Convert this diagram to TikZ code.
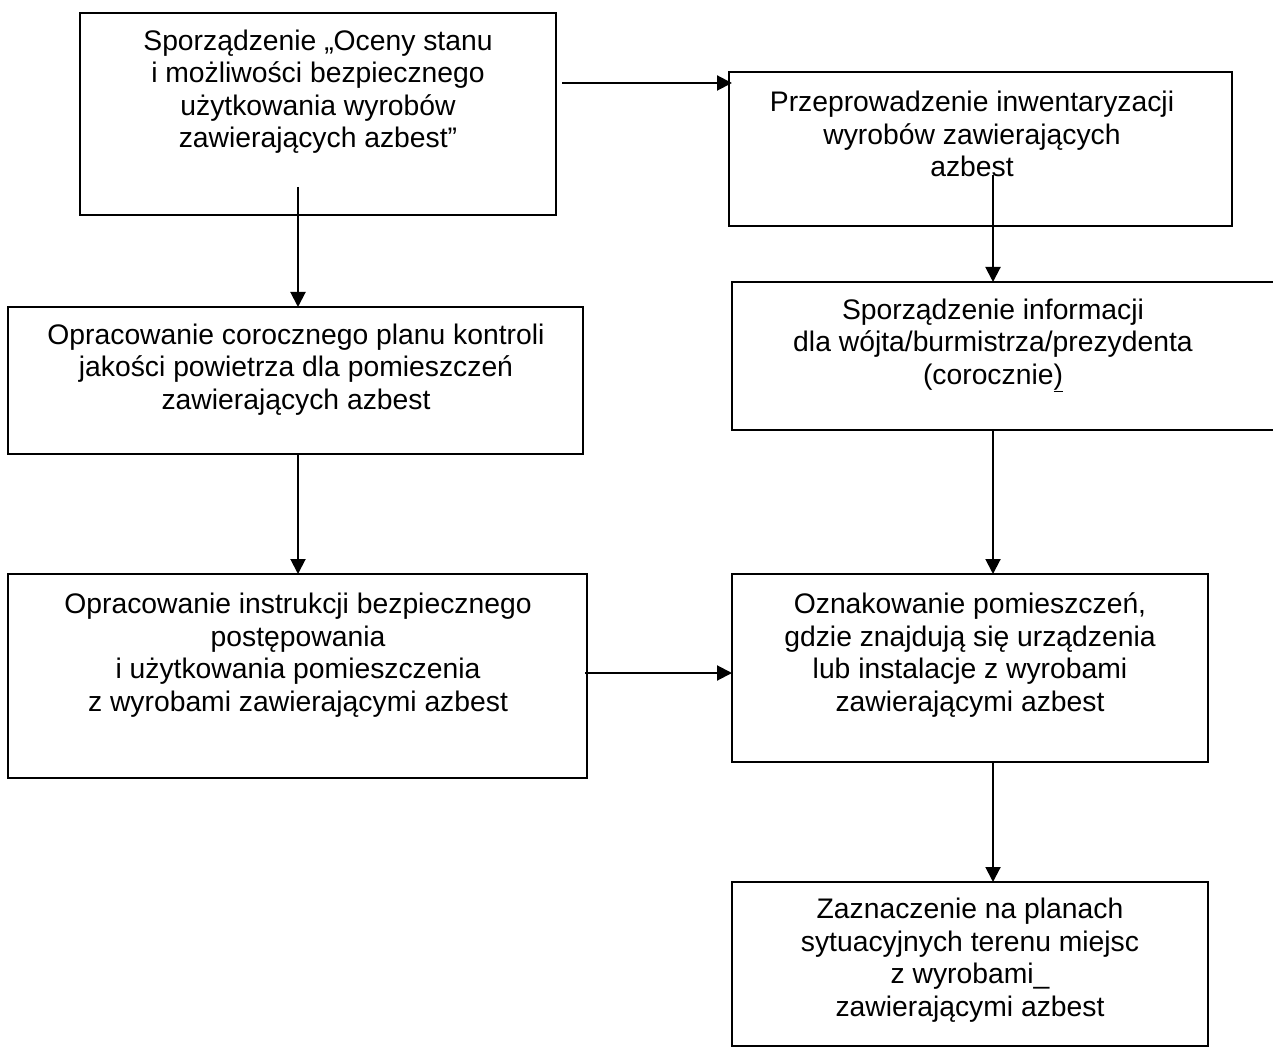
\documentclass[tikz,border=0pt]{standalone}
\usepackage{fontspec}
\setmainfont{Liberation Sans}
\usetikzlibrary{arrows.meta}
\begin{document}
\begin{tikzpicture}[x=1pt,y=-1pt,
  box/.style={draw, line width=2.2pt, inner sep=0pt, outer sep=0pt},
  txt/.style={align=center, anchor=base, inner sep=0pt, font=\fontsize{28.3}{32.5}\selectfont},
  arr/.style={line width=2pt, -{Triangle[length=15pt,width=15pt]}}]
\useasboundingbox (0,0) rectangle (1273,1048);
% boxes
\node[box, minimum width=476pt, minimum height=202pt] (A) at (318,114) {};
\node[box, minimum width=503pt, minimum height=154pt] (B) at (980.5,149) {};
\node[box, minimum width=575pt, minimum height=147pt] (C) at (295.5,380.5) {};
\node[box, minimum width=548pt, minimum height=148pt] (D) at (1006,356) {};
\node[box, minimum width=579pt, minimum height=204pt] (E) at (297.5,676) {};
\node[box, minimum width=476pt, minimum height=188pt] (F) at (970,668) {};
\node[box, minimum width=476pt, minimum height=164pt] (G) at (970,964) {};
% texts (anchor = baseline of the last line)
\node[txt] (At) at (318,148) {Sporządzenie „Oceny stanu\\ i możliwości bezpiecznego\\użytkowania wyrobów\\zawierających azbest”};
\node[txt] (Bt) at (972,177) {Przeprowadzenie inwentaryzacji\\wyrobów zawierających\\azbest};
\node[txt] (Ct) at (296,409) {Opracowanie corocznego planu kontroli\\jakości powietrza dla pomieszczeń\\zawierających azbest};
\node[txt] (Dt) at (993,384) {Sporządzenie informacji\\dla wójta/burmistrza/prezydenta\\(corocznie\underline{)}};
\node[txt] (Et) at (298,711) {Opracowanie instrukcji bezpiecznego\\postępowania\\i użytkowania pomieszczenia\\z wyrobami zawierającymi azbest};
\node[txt] (Ft) at (970,711) {Oznakowanie pomieszczeń,\\gdzie znajdują się urządzenia\\lub instalacje z wyrobami\\zawierającymi azbest};
\node[txt] (Gt) at (970,1016) {Zaznaczenie na planach\\sytuacyjnych terenu miejsc\\z wyrobami\_\\zawierającymi azbest};
% connectors
\coordinate (a1) at (562,83);
\coordinate (a2) at (298,187);
\coordinate (a3) at (993,175);
\coordinate (a6) at (585,673);
\draw[arr] (a1) -- ([xshift=3pt]a1 -| B.west);
\draw[arr] (a2) -- (a2 |- C.north);
\draw[arr] (a3) -- (a3 |- D.north);
\draw[arr] (a2 |- C.south) -- (a2 |- E.north);
\draw[arr] (a3 |- D.south) -- (a3 |- F.north);
\draw[arr] (a6) -- (a6 -| F.west);
\draw[arr] (a3 |- F.south) -- (a3 |- G.north);
\end{tikzpicture}
\end{document}
